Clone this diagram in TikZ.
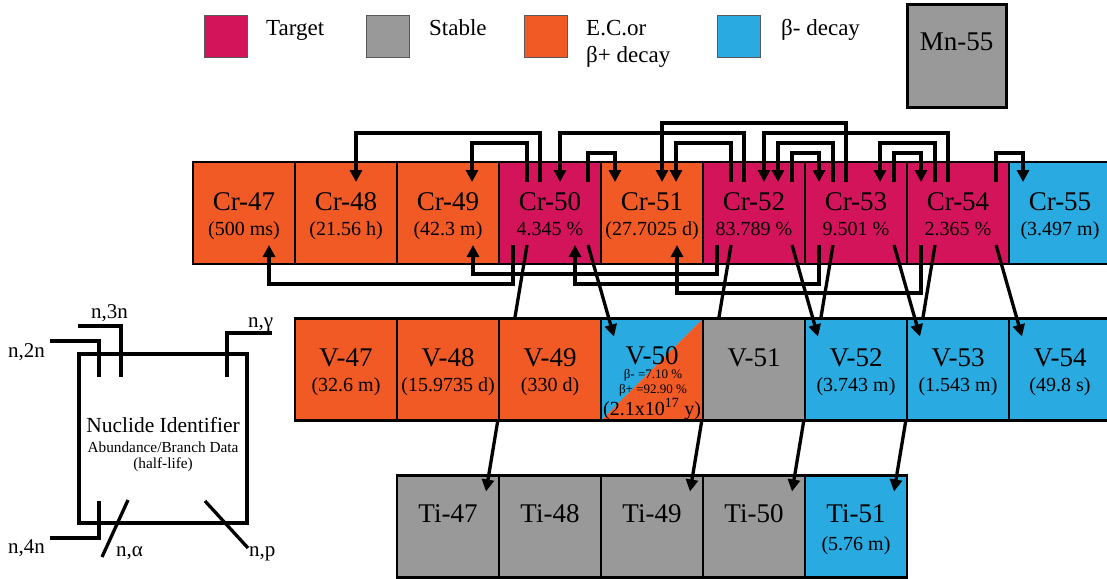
\documentclass[tikz,border=0pt]{standalone}
\usepackage{fontspec}
\setmainfont{Liberation Serif}
\usetikzlibrary{arrows.meta,calc}
\definecolor{cTarget}{RGB}{212,20,90}
\definecolor{cOrange}{RGB}{241,90,36}
\definecolor{cBlue}{RGB}{41,171,226}
\definecolor{cGray}{RGB}{153,153,153}
\begin{document}
\begin{tikzpicture}[x=1pt,y=-1pt,
  cell/.style={draw=black, line width=2.2pt, minimum width=102pt, minimum height=102pt, inner sep=0pt, outer sep=0pt},
  lab/.style={font=\fontsize{27}{27}\selectfont, inner sep=0pt, anchor=base},
  sub/.style={font=\fontsize{20}{20}\selectfont, inner sep=0pt, anchor=base},
  tinytxt/.style={font=\fontsize{13}{13}\selectfont, inner sep=0pt, anchor=base},
  leg/.style={font=\fontsize{23}{23}\selectfont, inner sep=0pt, anchor=base west},
  swatch/.style={draw=black!65, line width=0.8pt, minimum width=43pt, minimum height=42pt, inner sep=0pt, outer sep=0pt},
  conn/.style={line width=3.3pt},
  arr/.style={conn, -{Triangle[length=12pt,width=12pt]}},
  keyline/.style={line width=3.3pt},
  keylab/.style={font=\fontsize{21}{21}\selectfont, inner sep=0pt, anchor=base west},
]
\useasboundingbox (0,0) rectangle (1107,578);
\clip (0,0) rectangle (1107,578);

% ---------- legend ----------
\node[swatch, fill=cTarget, anchor=north west] (swT) at (204,15) {};
\node[leg] (lgT) at (266,36) {Target};
\node[swatch, fill=cGray, anchor=north west] (swS) at (366,15) {};
\node[leg] (lgS) at (429,36) {Stable};
\node[swatch, fill=cOrange, anchor=north west] (swE) at (524,15) {};
\node[leg] (lgE1) at (586,36) {E.C.or};
\node[leg] (lgE2) at (586,63) {β+ decay};
\node[swatch, fill=cBlue, anchor=north west] (swB) at (717,15) {};
\node[leg] (lgB) at (781,36) {β- decay};
\node[cell, line width=3pt, fill=cGray, minimum width=99pt, anchor=north west] (mn55) at (907,5) {};
\node[lab] (mn55l) at ($(mn55.north)+(0,46)$) {Mn-55};

% ---------- Cr row ----------
\foreach \n/\c/\col/\s in {47/0/cOrange/(500 ms),48/1/cOrange/(21.56 h),49/2/cOrange/(42.3 m),50/3/cTarget/4.345 \%,51/4/cOrange/(27.7025 d),52/5/cTarget/83.789 \%,53/6/cTarget/9.501 \%,54/7/cTarget/2.365 \%,55/8/cBlue/(3.497 m)}{
  \node[cell, fill=\col] (cr\n) at (244+102*\c, 213) {};
  \node[lab] (crl\n) at ($(cr\n.north)+(0,48)$) {Cr-\n};
  \node[sub] (crs\n) at ($(cr\n.north)+(0,73)$) {\s};
}

% ---------- Ti row ----------
\foreach \n/\c/\col/\s in {47/2/cGray/,48/3/cGray/,49/4/cGray/,50/5/cGray/,51/6/cBlue/(5.76 m)}{
  \node[cell, fill=\col] (ti\n) at (244+102*\c, 526.5) {};
  \node[lab] (til\n) at ($(ti\n.north)+(0,47)$) {Ti-\n};
  \node[sub] (tis\n) at ($(ti\n.north)+(0,75)$) {\s};
}

% ---------- n,alpha (behind V row) ----------
\draw[arr] ($(cr50.north west)+(28,83)$) -- ($(ti47.north west)+(89,16)$);
\draw[arr] ($(cr52.north west)+(28,83)$) -- ($(ti49.north west)+(89,16)$);
\draw[arr] ($(cr53.north west)+(28,83)$) -- ($(ti50.north west)+(89,16)$);
\draw[arr] ($(cr54.north west)+(28,83)$) -- ($(ti51.north west)+(89,16)$);

% ---------- V row ----------
\foreach \n/\c/\col/\s in {47/1/cOrange/(32.6 m),48/2/cOrange/(15.9735 d),49/3/cOrange/(330 d),51/5/cGray/,52/6/cBlue/(3.743 m),53/7/cBlue/(1.543 m),54/8/cBlue/(49.8 s)}{
  \node[cell, fill=\col] (v\n) at (244+102*\c, 369.5) {};
  \node[lab] (vl\n) at ($(v\n.north)+(0,47.5)$) {V-\n};
  \node[sub] (vs\n) at ($(v\n.north)+(0,72.5)$) {\s};
}
\node[cell, draw=none] (v50) at (652, 369.5) {};
\fill[cBlue] (v50.south west) -- (v50.north west) -- (v50.north east) -- cycle;
\fill[cOrange] (v50.south west) -- (v50.south east) -- (v50.north east) -- cycle;
\draw[line width=2.2pt] (v50.south west) rectangle (v50.north east);
\node[lab] (vl50) at ($(v50.north)+(0,45.5)$) {V-50};
\node[tinytxt] (v50a) at ($(v50.north)+(1,60)$) {β- =7.10 \%};
\node[tinytxt] (v50b) at ($(v50.north)+(1,74.5)$) {β+ =92.90 \%};
\node[sub] (v50c) at ($(v50.north)+(0,97)$) {(2.1x10\textsuperscript{17} y)};

% ---------- top connectors (n,3n / n,2n / n,gamma) ----------
\draw[arr] ($(cr50.north west)+(41,20)$) -- ++(0,-49) -| ($(cr48.north west)+(61,20)$);
\draw[arr] ($(cr50.north west)+(28,20)$) -- ++(0,-39) -| ($(cr49.north west)+(75,20)$);
\draw[arr] ($(cr50.north west)+(89,20)$) -- ++(0,-29) -| ($(cr51.north west)+(14,20)$);
\draw[arr] ($(cr52.north west)+(41,20)$) -- ++(0,-49) -| ($(cr50.north west)+(61,20)$);
\draw[arr] ($(cr52.north west)+(28,20)$) -- ++(0,-39) -| ($(cr51.north west)+(75,20)$);
\draw[arr] ($(cr52.north west)+(89,20)$) -- ++(0,-29) -| ($(cr53.north west)+(14,20)$);
\draw[arr] ($(cr53.north west)+(41,20)$) -- ++(0,-59) -| ($(cr51.north west)+(61,20)$);
\draw[arr] ($(cr53.north west)+(28,20)$) -- ++(0,-39) -| ($(cr52.north west)+(75,20)$);
\draw[arr] ($(cr53.north west)+(89,20)$) -- ++(0,-29) -| ($(cr54.north west)+(14,20)$);
\draw[arr] ($(cr54.north west)+(41,20)$) -- ++(0,-49) -| ($(cr52.north west)+(61,20)$);
\draw[arr] ($(cr54.north west)+(28,20)$) -- ++(0,-39) -| ($(cr53.north west)+(75,20)$);
\draw[arr] ($(cr54.north west)+(89,20)$) -- ++(0,-29) -| ($(cr55.north west)+(14,20)$);

% ---------- bottom connectors (n,4n) ----------
\draw[arr] ($(cr50.north west)+(14,83)$) -- ++(0,39) -| ($(cr47.north west)+(76,83)$);
\draw[arr] ($(cr52.north west)+(14,83)$) -- ++(0,29) -| ($(cr49.north west)+(76,83)$);
\draw[arr] ($(cr53.north west)+(14,83)$) -- ++(0,39) -| ($(cr50.north west)+(76,83)$);
\draw[arr] ($(cr54.north west)+(14,83)$) -- ++(0,48) -| ($(cr51.north west)+(76,83)$);

% ---------- n,p ----------
\draw[arr] ($(cr50.north west)+(89,83)$) -- ($(v50.north west)+(13,18)$);
\draw[arr] ($(cr52.north west)+(89,83)$) -- ($(v52.north west)+(13,18)$);
\draw[arr] ($(cr53.north west)+(89,83)$) -- ($(v53.north west)+(13,18)$);
\draw[arr] ($(cr54.north west)+(89,83)$) -- ($(v54.north west)+(13,18)$);

% ---------- key ----------
\node[draw, line width=3.3pt, minimum width=168pt, minimum height=169pt, inner sep=0pt, outer sep=0pt, anchor=north west] (key) at (79,354) {};
\node[font=\fontsize{21.5}{21.5}\selectfont, inner sep=0pt, anchor=base] (keyt) at ($(key.north)+(0,78)$) {Nuclide Identifier};
\node[font=\fontsize{15.3}{15.3}\selectfont, inner sep=0pt, anchor=base] (keya) at ($(key.north)+(0,98)$) {Abundance/Branch Data};
\node[font=\fontsize{15.3}{15.3}\selectfont, inner sep=0pt, anchor=base] (keyh) at ($(key.north)+(0,114)$) {(half-life)};
\node[keylab] (k2n) at (8,357) {n,2n};
\node[keylab] (k3n) at (91,318) {n,3n};
\node[keylab] (kg) at (248,327) {n,γ};
\node[keylab] (k4n) at (8,553) {n,4n};
\node[keylab] (ka) at (116,556) {n,α};
\node[keylab] (kp) at (249,556) {n,p};
\draw[keyline] ($(key.north west)+(-29,-13)$) -- ++(49,0) -- ++(0,36);
\draw[keyline] ($(key.north west)+(-1,-28)$) -- ++(43,0) -- ++(0,51);
\draw[keyline] ($(key.north west)+(193,-21)$) -- ++(-45,0) -- ++(0,44);
\draw[keyline] ($(key.north west)+(-29,184)$) -- ++(49,0) -- ++(0,-37);
\draw[keyline] ($(key.north west)+(49,146)$) -- ++(-26,57);
\draw[keyline] ($(key.north west)+(126,147)$) -- ++(43,47);
\end{tikzpicture}
\end{document}
